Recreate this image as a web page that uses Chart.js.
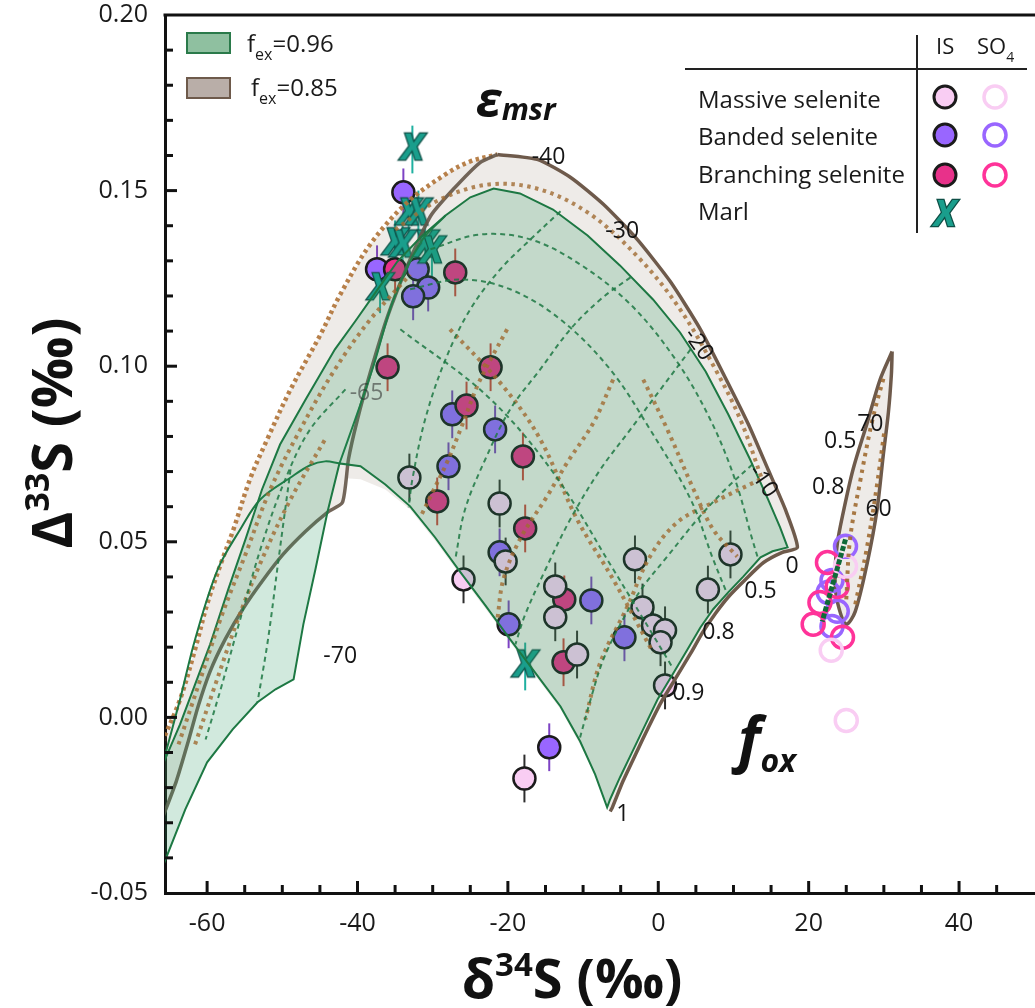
<!DOCTYPE html>
<html>
<head>
<meta charset="utf-8">
<script src="https://cdn.jsdelivr.net/npm/chart.js@4/dist/chart.umd.min.js"></script>
<style>
  html, body { margin: 0; padding: 0; background: #fff; }
  canvas { display: block; }
</style>
</head>
<body>
<canvas id="fig" width="1035" height="1008"></canvas>
<script>
// ---- values (d34S, D33S) ----
const xTicks = [-60, -40, -20, 0, 20, 40];
const xMinor = [-55, -50, -45, -35, -30, -25, -15, -10, -5, 5, 10, 15, 25, 30, 35, 45];
const yTicks = [-0.05, 0, 0.05, 0.10, 0.15, 0.20];
const yMinor = [-0.04, -0.03, -0.02, -0.01, 0.01, 0.02, 0.03, 0.04, 0.06, 0.07, 0.08, 0.09,
                0.11, 0.12, 0.13, 0.14, 0.16, 0.17, 0.18, 0.19];

const massiveIS = [[-33.1,0.0683],[-25.9,0.0393],[-21.1,0.0609],[-20.3,0.0444],[-13.7,0.0373],[-13.7,0.0285],
  [-10.8,0.0179],[-3.1,0.0450],[-2.1,0.0313],[-0.7,0.0262],[0.9,0.0248],[0.3,0.0214],[6.6,0.0364],[9.6,0.0464],
  [0.9,0.0091],[-17.8,-0.0174]];
const bandedIS = [[-33.9,0.1495],[-37.4,0.1276],[-32.0,0.1276],[-30.6,0.1224],[-32.6,0.1199],[-27.4,0.0863],
  [-21.7,0.0820],[-27.9,0.0715],[-21.1,0.0470],[-19.9,0.0265],[-8.9,0.0333],[-4.5,0.0228],[-14.5,-0.0085]];
const branchingIS = [[-35.0,0.1276],[-27.0,0.1267],[-36.0,0.0997],[-22.3,0.0997],[-25.5,0.0888],[-18.0,0.0743],
  [-29.4,0.0615],[-17.7,0.0538],[-12.5,0.0336],[-12.6,0.0157]];
const marlIS = [[-32.7,0.1617],[-33.2,0.1432],[-31.9,0.1432],[-35.0,0.1347],[-34.0,0.1341],[-31.0,0.1341],
  [-30.1,0.1324],[-37.0,0.1219],[-17.7,0.0145]];
const isError = 0.0068;

const massiveSO4 = [[24.9,0.0430],[23.0,0.0191],[25.0,-0.0009]];
const bandedSO4 = [[24.9,0.0487],[23.1,0.0390],[22.6,0.0356],[23.8,0.0302],[23.1,0.0259]];
const branchingSO4 = [[22.5,0.0441],[23.8,0.0373],[21.5,0.0327],[20.6,0.0265],[24.5,0.0228]];

// model field f_ex = 0.96 (green)
const greenOuter = [[-66,-0.0140],[-63.6,-0.0020],[-61.6,0.0094],[-59.6,0.0208],[-57.2,0.0364],[-54.9,0.0507],
  [-52.7,0.0649],[-50.3,0.0777],[-46.9,0.0905],[-43.0,0.1048],[-40.3,0.1128],[-37.6,0.1210],[-34.7,0.1298],
  [-31.6,0.1367],[-28.3,0.1429],[-25.0,0.1481],[-21.9,0.1506],[-18.4,0.1492],[-14.0,0.1446],[-9.4,0.1372],
  [-5.1,0.1287],[-0.7,0.1190],[2.9,0.1096],[6.3,0.0985],[9.3,0.0863],[12.2,0.0735],[14.6,0.0621],[16.2,0.0541],[17.2,0.0484]];
const greenRight = [[17.2,0.0484],[15.2,0.0473],[13.6,0.0456],[11.3,0.0401],[9.3,0.0356],[7.3,0.0308],[5.6,0.0256],
  [3.9,0.0194],[1.9,0.0122],[-0.1,0.0051],[-1.7,-0.0020],[-3.3,-0.0091],[-5.1,-0.0171],[-6.4,-0.0233],[-6.8,-0.0256]];
const greenLower = [[-6.8,-0.0256],[-8.4,-0.0162],[-10.4,-0.0068],[-13.0,0.0031],[-16.4,0.0128],[-19.7,0.0222],
  [-23.0,0.0319],[-26.3,0.0413],[-29.7,0.0513],[-33.0,0.0601],[-36.3,0.0663],[-39.6,0.0715],[-42.4,0.0723]];
const greenTail = [[-42.4,0.0723],[-44.0,0.0584],[-45.6,0.0421],[-47.2,0.0265],[-48.5,0.0108],[-50.9,0.0080],
  [-53.3,0.0043],[-56.6,-0.0034],[-60.0,-0.0128],[-62.9,-0.0262],[-66,-0.0430]];
const greenEps70 = [[-42.4,0.0723],[-40.3,0.0849],[-37.9,0.0999],[-35.2,0.1190],[-31.6,0.1353],[-28.3,0.1429]];
const greenLowerLeft = [[-42.4,0.0723],[-44.3,0.0729],[-46.3,0.0718],[-48.9,0.0683],[-52.9,0.0621],[-55.6,0.0535],
  [-58.6,0.0421],[-61.6,0.0222],[-63.6,0.0051],[-66,-0.0140]];

// model field f_ex = 0.85 (brown)
const brownOuter = [[-66,-0.0071],[-63.6,0.0051],[-61.6,0.0194],[-60.0,0.0322],[-58.2,0.0436],[-56.5,0.0535],
  [-54.3,0.0678],[-52.0,0.0792],[-48.9,0.0934],[-44.9,0.1091],[-42.3,0.1204],[-38.3,0.1347],[-33.4,0.1466],
  [-28.1,0.1549],[-25.0,0.1583],[-21.4,0.1603]];
const brownTop = [[-21.4,0.1603],[-16.1,0.1589],[-11.7,0.1538],[-7.3,0.1461],[-2.8,0.1361],[1.6,0.1241],[5.6,0.1105],
  [8.9,0.0968],[12.0,0.0834],[14.6,0.0706],[16.9,0.0592],[18.5,0.0484]];
const brownRight = [[18.5,0.0484],[16.5,0.0470],[14.0,0.0441],[11.6,0.0393],[9.4,0.0345],[7.6,0.0296],[5.9,0.0242],
  [4.3,0.0182],[2.3,0.0111],[0.3,0.0040],[-1.3,-0.0028],[-2.9,-0.0100],[-4.7,-0.0182],[-6.1,-0.0256],[-6.4,-0.0268]];
const brownLower = [[-6.4,-0.0268],[-8.2,-0.0171],[-10.4,-0.0077],[-13.0,0.0023],[-16.4,0.0120],[-19.7,0.0214],
  [-23.0,0.0310],[-26.3,0.0404],[-29.7,0.0504],[-33.0,0.0592],[-36.3,0.0649],[-39.6,0.0678],[-41.6,0.0681]];
const brownInner = [[-21.4,0.1603],[-23.7,0.1580],[-27.3,0.1503],[-30.3,0.1427],[-33.4,0.1284],[-36.0,0.1142],
  [-38.3,0.0982],[-40.0,0.0849],[-41.2,0.0735],[-42.0,0.0612],[-44.0,0.0584],[-46.9,0.0530],[-49.9,0.0464],
  [-52.7,0.0387],[-55.2,0.0310],[-57.6,0.0222],[-59.6,0.0131],[-61.2,0.0031],[-62.5,-0.0068],[-64.1,-0.0182],[-66,-0.0290]];

// sulfate field (right)
const so4Field = [[31.1,0.1042],[29.5,0.0962],[27.8,0.0840],[25.9,0.0706],[24.6,0.0584],[23.8,0.0493],[23.5,0.0393],
  [23.9,0.0322],[25.0,0.0265],[26.2,0.0302],[27.8,0.0441],[29.1,0.0592],[29.9,0.0743],[30.6,0.0868],[31.0,0.0977],[31.1,0.1042]];
const so4Dots1 = [[25.0,0.0336],[25.5,0.0507],[26.9,0.0678],[28.5,0.0849],[30.1,0.0977]];
const so4Dots2 = [[26.2,0.0322],[27.7,0.0478],[29.0,0.0649],[30.1,0.0820]];
const so4Green = [[24.9,0.0507],[21.8,0.0273]];

// contour lines inside the fields
const greenDashed = [
  [[-34.3,0.1105],[-22.7,0.0914],[-14.0,0.0698],[-6.4,0.0436],[1.9,0.0142]],
  [[-30.3,0.1333],[-23.7,0.1375],[-17.0,0.1361],[-10.4,0.1290],[-3.7,0.1176],[2.3,0.1019],[6.9,0.0849],[10.2,0.0678],[12.5,0.0507],[13.3,0.0450]],
  [[-33.0,0.1219],[-26.3,0.1247],[-19.7,0.1219],[-13.0,0.1133],[-6.4,0.0991],[-1.1,0.0820],[4.3,0.0621],[7.3,0.0450],[9.2,0.0350]],
  [[12.5,0.0720],[8.9,0.0649],[5.2,0.0564],[1.2,0.0458],[-2.0,0.0373],[-4.7,0.0279],[-7.3,0.0165],[-9.0,0.0051],[-10.4,-0.0057]],
  [[4.3,0.1048],[0.3,0.0934],[-3.7,0.0820],[-7.7,0.0706],[-11.7,0.0564],[-15.0,0.0421],[-17.7,0.0293],[-19.0,0.0208]],
  [[-3.7,0.1253],[-7.7,0.1190],[-11.7,0.1105],[-15.7,0.0991],[-19.7,0.0877],[-23.0,0.0735],[-25.7,0.0592],[-27.0,0.0450]],
  [[-13.0,0.1441],[-17.0,0.1361],[-21.0,0.1276],[-25.0,0.1162],[-28.3,0.1019],[-31.0,0.0849],[-32.7,0.0678],[-33.2,0.0598]],
  [[-41.6,0.0934],[-46.3,0.0820],[-49.6,0.0678],[-52.7,0.0493],[-55.6,0.0279],[-58.2,0.0080],[-60.2,-0.0063]],
  [[-48.9,0.0706],[-50.5,0.0450],[-51.9,0.0222],[-53.3,0.0043]]
];
const brownDotted = [
  [[-27.7,0.1105],[-20.6,0.0942],[-15.7,0.0792],[-10.8,0.0564],[-6.0,0.0393],[-0.7,0.0185]],
  [[-2.0,0.0962],[1.2,0.0820],[4.7,0.0649],[7.3,0.0535],[10.5,0.0458]],
  [[-6.0,0.0962],[-8.6,0.0840],[-12.1,0.0726],[-14.8,0.0629],[-18.4,0.0507],[-20.6,0.0393],[-21.4,0.0279]],
  [[13.6,0.0678],[7.3,0.0612],[2.5,0.0555],[-1.1,0.0458],[-4.1,0.0316],[-7.7,0.0157],[-9.7,-0.0006]],
  [[-20.1,0.1105],[-22.3,0.1019],[-24.1,0.0942],[-26.3,0.0820],[-28.1,0.0726],[-30.3,0.0629],[-31.6,0.0572]],
  [[-35.0,0.1389],[-29.0,0.1475],[-22.3,0.1518],[-15.7,0.1503],[-9.0,0.1432],[-2.4,0.1304],[2.9,0.1162],[7.6,0.0991],[10.9,0.0849],[13.8,0.0678]],
  [[-63.8,-0.0077],[-60.9,0.0108],[-58.0,0.0293],[-54.9,0.0464],[-51.6,0.0649],[-47.6,0.0820],[-43.0,0.0991],[-38.3,0.1133],[-33.0,0.1261]],
  [[-61.6,-0.0077],[-58.9,0.0094],[-55.9,0.0279],[-52.7,0.0450],[-48.9,0.0621],[-44.3,0.0792]]
];

// contour labels: text, d34S, D33S, rotation (deg)
const contourLabels = [
  ['-40', -14.6, 0.1595, 0], ['-30', -4.8, 0.1384, 0], ['-20', 5.3, 0.1062, 55], ['-10', 13.9, 0.0672, 55],
  ['0', 17.8, 0.0430, 0], ['0.5', 13.6, 0.0359, 0], ['0.8', 8.0, 0.0242, 0], ['0.9', 4.0, 0.0068, 0],
  ['1', -4.7, -0.0276, 0], ['-70', -42.3, 0.0174, 0],
  ['0.5', 24.2, 0.0786, 0], ['70', 28.2, 0.0834, 0], ['0.8', 22.6, 0.0655, 0], ['60', 29.3, 0.0592, 0]
];

const col = {
  massive: '#f9cdf3', banded: '#9966ff', branching: '#e8318a', marl: '#1a9e8c',
  green: '#1d7843', brown: '#6e5a4b', dot: '#a8702f'
};
const FONT = '"Open Sans", "DejaVu Sans", sans-serif';

const pts = arr => arr.map(([x, y]) => ({ x, y }));

// bold teal X used for the marl samples
function makeCross(size) {
  const c = document.createElement('canvas');
  c.width = size; c.height = size + 4;
  const g = c.getContext('2d');
  g.font = 'bold italic ' + size + 'px ' + FONT;
  g.textAlign = 'center'; g.textBaseline = 'middle';
  g.lineWidth = 2.5; g.strokeStyle = '#0e4f46';
  g.strokeText('X', size / 2, size / 2 + 2);
  g.fillStyle = col.marl;
  g.fillText('X', size / 2, size / 2 + 2);
  return c;
}
const crossImg = makeCross(36);

function lineSet(data, color, width, dash, order, extra) {
  return Object.assign({
    type: 'line', data: pts(data), borderColor: color, borderWidth: width, borderDash: dash || [],
    pointRadius: 0, fill: false, tension: 0.35, order: order
  }, extra || {});
}

const greenPoly = [...greenOuter, ...greenRight.slice(1), ...greenLower.slice(1), ...greenTail.slice(1)];
const brownPoly = [...brownOuter, ...brownTop.slice(1), ...brownRight.slice(1), ...brownLower.slice(1), ...brownInner.slice(9)];

const datasets = [];
// contour lines on top
greenDashed.forEach(l => datasets.push(lineSet(l, 'rgba(29,120,67,0.85)', 2, [5, 4], 1)));
brownDotted.forEach(l => datasets.push(lineSet(l, 'rgba(160,108,50,0.8)', 4, [3.5, 4.5], 1)));
datasets.push(lineSet(so4Dots1, 'rgba(160,108,50,0.9)', 4, [3.5, 5], 1));
datasets.push(lineSet(so4Dots2, 'rgba(160,108,50,0.9)', 4, [3.5, 5], 1));
datasets.push(lineSet(so4Green, '#0f6a38', 5, [5, 2], 1, { tension: 0 }));
// green field (translucent, over the samples)
datasets.push(lineSet(greenPoly, col.green, 2, [], 2, { fill: 'shape', backgroundColor: 'rgba(40,150,95,0.21)', tension: 0 }));
datasets.push(lineSet(greenEps70, col.green, 2, [], 2));
datasets.push(lineSet(greenLowerLeft, col.green, 2, [], 2));
// brown field outlines
datasets.push(lineSet([...brownTop, ...brownRight.slice(1)], col.brown, 3.5, [], 3, { tension: 0.2 }));
datasets.push(lineSet(brownInner, 'rgba(100,85,72,0.9)', 3.5, [], 3, { tension: 0.2 }));
datasets.push(lineSet(brownOuter, 'rgba(176,115,55,0.9)', 4.5, [3.5, 3.5], 3));
datasets.push(lineSet(so4Field, col.brown, 3.5, [], 4, { fill: 'shape', backgroundColor: 'rgba(125,100,80,0.13)', tension: 0.3 }));
// brown fill below the samples
datasets.push(lineSet(brownPoly, 'rgba(0,0,0,0)', 0, [], 8, { fill: 'shape', backgroundColor: 'rgba(125,100,80,0.13)', tension: 0 }));
// sulfate samples
const openPt = (data, c) => ({ type: 'scatter', data: pts(data), pointRadius: 11, pointBorderWidth: 3.5,
  pointBorderColor: c, pointBackgroundColor: 'rgba(255,255,255,0)', order: 3.5 });
datasets.push(openPt(massiveSO4, col.massive));
datasets.push(openPt(branchingSO4, '#ff3399'));
datasets.push(openPt(bandedSO4, col.banded));
// interstitial sulfide samples (under the green field)
const filledPt = (data, c) => ({ type: 'scatter', data: pts(data), pointRadius: 11, pointBorderWidth: 2.5,
  pointBorderColor: '#1b1b1b', pointBackgroundColor: c, order: 6 });
datasets.push(filledPt(massiveIS, col.massive));
datasets.push(filledPt(branchingIS, col.branching));
datasets.push(filledPt(bandedIS, col.banded));
datasets.push({ type: 'scatter', data: pts(marlIS), pointStyle: crossImg, pointRadius: 14, order: 5.5 });

function rich(ctx, parts, x, y, align) {
  let w = 0;
  parts.forEach(p => { ctx.font = p.f; p.w = ctx.measureText(p.t).width; w += p.w; });
  let cx = align === 'center' ? x - w / 2 : x;
  ctx.textAlign = 'left';
  ctx.textBaseline = 'alphabetic';
  parts.forEach(p => { ctx.font = p.f; ctx.fillText(p.t, cx, y + (p.dy || 0)); cx += p.w; });
}

const overlay = {
  id: 'overlay',
  beforeDatasetsDraw(chart) {
    const ctx = chart.ctx, xs = chart.scales.x, ys = chart.scales.y;
    const groups = [[massiveIS, '#2d2d2d'], [bandedIS, '#7d43c4'], [branchingIS, '#d2423a'], [marlIS, '#1fb0a0']];
    ctx.save();
    ctx.lineWidth = 2;
    groups.forEach(([arr, c]) => {
      ctx.strokeStyle = c;
      arr.forEach(([x, y]) => {
        const px = xs.getPixelForValue(x);
        ctx.beginPath();
        ctx.moveTo(px, ys.getPixelForValue(y - isError));
        ctx.lineTo(px, ys.getPixelForValue(y + isError));
        ctx.stroke();
      });
    });
    ctx.restore();
  },
  afterDraw(chart) {
    const ctx = chart.ctx, xs = chart.scales.x, ys = chart.scales.y, a = chart.chartArea;
    ctx.save();
    // frame top and inward ticks
    ctx.strokeStyle = '#111';
    ctx.lineWidth = 3;
    ctx.beginPath(); ctx.moveTo(a.left - 1.5, a.top); ctx.lineTo(chart.width, a.top); ctx.stroke();
    const tick = (vals, len) => {
      vals.forEach(v => {
        const px = xs.getPixelForValue(v);
        ctx.beginPath(); ctx.moveTo(px, a.bottom); ctx.lineTo(px, a.bottom - len); ctx.stroke();
      });
    };
    const ytick = (vals, len) => {
      vals.forEach(v => {
        const py = ys.getPixelForValue(v);
        ctx.beginPath(); ctx.moveTo(a.left, py); ctx.lineTo(a.left + len, py); ctx.stroke();
      });
    };
    tick(xTicks, 12); tick(xMinor, 8);
    ytick(yTicks.slice(1, -1), 12); ytick(yMinor, 8);

    // contour labels
    ctx.fillStyle = '#151515';
    ctx.font = '23px ' + FONT;
    ctx.textAlign = 'center'; ctx.textBaseline = 'middle';
    contourLabels.forEach(([t, x, y, r]) => {
      ctx.save();
      ctx.translate(xs.getPixelForValue(x), ys.getPixelForValue(y));
      ctx.rotate(r * Math.PI / 180);
      ctx.fillText(t, 0, 0);
      ctx.restore();
    });
    ctx.fillStyle = 'rgba(40,40,40,0.55)';
    ctx.fillText('-65', xs.getPixelForValue(-38.8), ys.getPixelForValue(0.0923));

    // epsilon msr and f ox
    ctx.fillStyle = '#111';
    rich(ctx, [{ t: 'ε', f: 'bold italic 50px ' + FONT }, { t: 'msr', f: 'bold italic 30px ' + FONT, dy: 3 }], 476, 117, 'left');
    rich(ctx, [{ t: 'f', f: 'bold italic 60px ' + FONT }, { t: 'ox', f: 'bold italic 32px ' + FONT, dy: 12 }], 738, 760, 'left');

    // axis titles
    rich(ctx, [{ t: 'δ', f: 'bold 54px ' + FONT }, { t: '34', f: 'bold 33px ' + FONT, dy: -22 },
               { t: 'S (‰)', f: 'bold 54px ' + FONT }], 572, 998, 'center');
    ctx.save();
    ctx.translate(72, 433);
    ctx.rotate(-Math.PI / 2);
    rich(ctx, [{ t: 'Δ', f: 'bold 56px ' + FONT }, { t: '33', f: 'bold 34px ' + FONT, dy: -23 },
               { t: 'S (‰)', f: 'bold 56px ' + FONT }], 0, 0, 'center');
    ctx.restore();

    // model legend (top left)
    ctx.lineWidth = 2;
    ctx.fillStyle = '#8fc0a0'; ctx.strokeStyle = '#2a7a4a';
    ctx.fillRect(187, 33, 43, 20); ctx.strokeRect(187, 33, 43, 20);
    ctx.fillStyle = '#b9aea8'; ctx.strokeStyle = '#6e5a4b';
    ctx.fillRect(187, 78, 43, 20); ctx.strokeRect(187, 78, 43, 20);
    ctx.fillStyle = '#1a1a1a';
    rich(ctx, [{ t: 'f', f: '24px ' + FONT }, { t: 'ex', f: '16px ' + FONT, dy: 8 }, { t: '=0.96', f: '24px ' + FONT }], 247, 52, 'left');
    rich(ctx, [{ t: 'f', f: '24px ' + FONT }, { t: 'ex', f: '16px ' + FONT, dy: 8 }, { t: '=0.85', f: '24px ' + FONT }], 251, 96, 'left');

    // sample legend (top right)
    ctx.strokeStyle = '#222'; ctx.lineWidth = 2;
    ctx.beginPath(); ctx.moveTo(685, 69); ctx.lineTo(1027, 69); ctx.stroke();
    ctx.beginPath(); ctx.moveTo(917, 35); ctx.lineTo(917, 233); ctx.stroke();
    ctx.fillStyle = '#1a1a1a';
    rich(ctx, [{ t: 'IS', f: '22px ' + FONT }], 936, 54, 'left');
    rich(ctx, [{ t: 'SO', f: '22px ' + FONT }, { t: '4', f: '14px ' + FONT, dy: 8 }], 977, 54, 'left');
    const rows = [['Massive selenite', col.massive, col.massive, 108, 97],
                  ['Banded selenite', col.banded, col.banded, 145, 135],
                  ['Branching selenite', col.branching, '#ff3399', 183, 175]];
    rows.forEach(([t, fill, ring, base, cy]) => {
      ctx.fillStyle = '#1a1a1a';
      rich(ctx, [{ t: t, f: '24px ' + FONT }], 698, base, 'left');
      ctx.beginPath(); ctx.arc(945, cy, 11, 0, Math.PI * 2);
      ctx.fillStyle = fill; ctx.fill();
      ctx.lineWidth = 3; ctx.strokeStyle = '#1b1b1b'; ctx.stroke();
      ctx.beginPath(); ctx.arc(995, cy, 11, 0, Math.PI * 2);
      ctx.lineWidth = 3.5; ctx.strokeStyle = ring; ctx.stroke();
    });
    ctx.fillStyle = '#1a1a1a';
    rich(ctx, [{ t: 'Marl', f: '24px ' + FONT }], 698, 220, 'left');
    ctx.drawImage(crossImg, 945 - crossImg.width / 2, 216 - crossImg.height / 2);
    ctx.restore();
  }
};

new Chart(document.getElementById('fig'), {
  type: 'scatter',
  data: { datasets },
  options: {
    responsive: false,
    devicePixelRatio: 1,
    animation: false,
    events: [],
    layout: { autoPadding: false, padding: { top: 15, right: 0, left: 0, bottom: 0 } },
    plugins: { legend: { display: false }, tooltip: { enabled: false } },
    scales: {
      x: {
        type: 'linear', min: -65.6, max: 50.1,
        grid: { display: false, drawTicks: false },
        border: { display: true, color: '#111', width: 3 },
        afterBuildTicks: s => { s.ticks = xTicks.map(v => ({ value: v })); },
        afterFit: s => { s.height = 115; s.paddingLeft = 0; s.paddingRight = 0; },
        ticks: { color: '#1a1a1a', padding: 16, font: { family: FONT, size: 25 }, callback: v => String(v) }
      },
      y: {
        type: 'linear', min: -0.05, max: 0.20,
        grid: { display: false, drawTicks: false },
        border: { display: true, color: '#111', width: 3 },
        afterBuildTicks: s => { s.ticks = yTicks.map(v => ({ value: v })); },
        afterFit: s => { s.width = 165; s.paddingTop = 0; s.paddingBottom = 0; },
        ticks: { color: '#1a1a1a', padding: 17, font: { family: FONT, size: 25 }, callback: v => v.toFixed(2) }
      }
    }
  },
  plugins: [overlay]
});
</script>
</body>
</html>
